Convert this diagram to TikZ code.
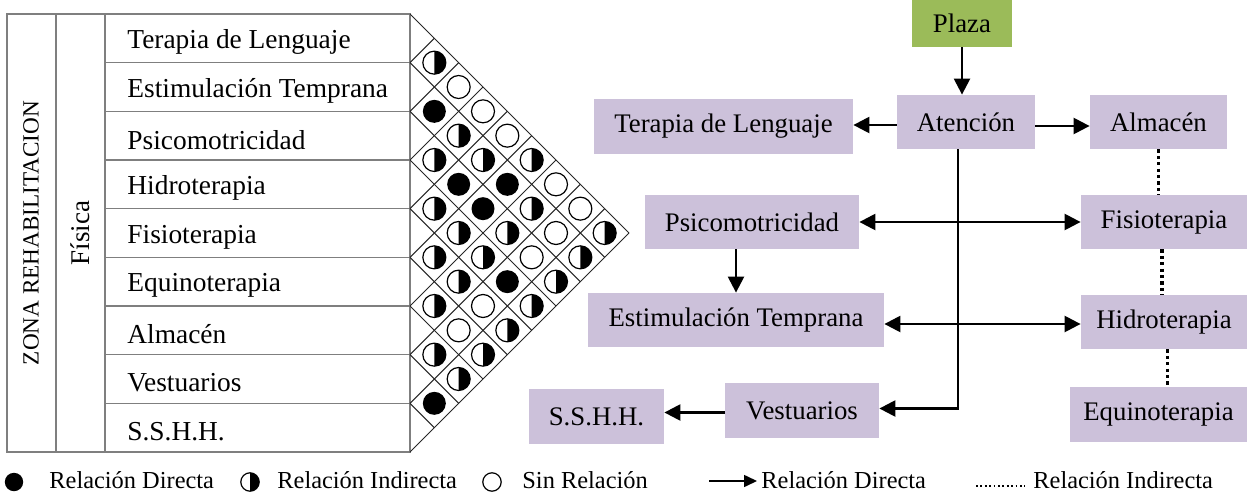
\documentclass[tikz,border=0pt]{standalone}
\usepackage{fontspec}
\setmainfont{Liberation Serif}
\usepackage{xcolor}
\usepackage{tikz}
\usetikzlibrary{arrows.meta,positioning,calc}

\definecolor{lav}{HTML}{CCC1DA}
\definecolor{plazagreen}{HTML}{9BBB59}
\definecolor{tblgray}{HTML}{7F7F7F}

\begin{document}
\begin{tikzpicture}[
  x=0.5pt, y=-0.5pt,
  tbl/.style={draw=tblgray, line width=0.75pt},
  grid/.style={draw=black!85, line width=0.5pt},
  rowlbl/.style={anchor=west, inner sep=0pt, font=\fontsize{13.7}{16}\selectfont},
  zone/.style={rotate=90, inner sep=0pt, font=\fontsize{11.6}{14}\selectfont},
  box/.style={fill=lav, inner sep=0pt, minimum height=27pt, font=\fontsize{13.4}{16}\selectfont},
  plazabox/.style={box, fill=plazagreen, minimum height=23.5pt},
  arr/.style={-{Triangle[length=8pt,width=8pt]}, line width=1.2pt},
  dbl/.style={{Triangle[length=8pt,width=8pt]}-{Triangle[length=8pt,width=8pt]}, line width=1.2pt},
  indir/.style={line width=1.6pt, dash pattern=on 1.6pt off 1.6pt},
  legdot/.style={line width=0.9pt, dash pattern=on 0.9pt off 1.3pt},
  leg/.style={anchor=west, inner sep=0pt, font=\fontsize{12.2}{14}\selectfont},
  sym/.style={line width=0.6pt}
]
\useasboundingbox (0,0) rectangle (1249,493);

% relation table
\draw[tbl] (7,14) rectangle (410,452);
\draw[tbl] (56,14) -- (56,452) (105,14) -- (105,452);
\foreach \k in {1,...,8}
  \draw[tbl] (105,{14+\k*48.667}) -- (410,{14+\k*48.667});

\node[zone] (zona) at (31,233) {ZONA REHABILITACION};
\node[zone, font=\fontsize{13.5}{16}\selectfont] (fisica) at (80,233) {Física};

\foreach \n/\txt in {1/Terapia de Lenguaje, 2/Estimulación Temprana, 3/Psicomotricidad,
    4/Hidroterapia, 5/Fisioterapia, 6/Equinoterapia, 7/Almacén, 8/Vestuarios, 9/S.S.H.H.}
  \node[rowlbl] (r\n) at (127,{18+(\n-0.5)*48.667}) {\txt};

% diamond grid
\foreach \k in {0,...,9} {
  \pgfmathsetmacro\b{14+\k*48.667}
  \draw[grid] (410,\b) -- ++({(452-\b)/2},{(452-\b)/2});
  \draw[grid] (410,\b) -- ++({(\b-14)/2},{-(\b-14)/2});
}

% relation symbols
\foreach \i/\j in {2/3, 8/9, 3/5, 3/6, 2/6, 4/8}
  \fill ({410+(\j-\i)*24.333},{14+(\i+\j-1)*24.333}) circle[radius=5.75pt];
\foreach \i/\j in {1/3, 6/8, 1/4, 5/8, 1/5, 3/8, 1/7, 2/8, 1/8}
  \draw[sym] ({410+(\j-\i)*24.333},{14+(\i+\j-1)*24.333}) circle[radius=5.75pt];
\foreach \i/\j in {1/2, 3/4, 4/5, 5/6, 6/7, 7/8, 2/4, 4/6, 5/7, 7/9, 2/5, 4/7, 6/9,
    3/7, 5/9, 1/6, 2/7, 4/9, 3/9, 2/9, 1/9} {
  \fill ({410+(\j-\i)*24.333},{14+(\i+\j-1)*24.333}) ++(0pt,5.75pt)
    arc[start angle=90, end angle=-90, radius=5.75pt] -- cycle;
  \draw[sym] ({410+(\j-\i)*24.333},{14+(\i+\j-1)*24.333}) circle[radius=5.75pt];
}

% flow diagram
\node[plazabox, minimum width=50pt] (plaza) at (962,23.5) {Plaza};
\node[box, minimum width=69pt] (aten) at (966,122) {Atención};
\node[box, minimum width=129.5pt, minimum height=27.5pt] (terap) at (723.5,126.5) {Terapia de Lenguaje};
\node[box, minimum width=68.5pt] (almac) at (1158.5,122) {Almacén};
\node[box, minimum width=107pt] (psico) at (752,222) {Psicomotricidad};
\node[box, minimum width=83pt] (fisio) at (1164,222) {Fisioterapia};
\node[box, minimum width=148pt] (estim) at (736,320) {Estimulación Temprana};
\node[box, minimum width=83pt] (hidro) at (1164,322) {Hidroterapia};
\node[box, minimum width=88.5pt, minimum height=27.5pt] (equin) at (1158.5,414.5) {Equinoterapia};
\node[box, minimum width=77pt, minimum height=27.5pt] (vest) at (802,410.5) {Vestuarios};
\node[box, minimum width=67.5pt, minimum height=27.5pt] (sshh) at (596.5,416.5) {S.S.H.H.};

\draw[arr] (plaza.south) -- (plaza.south |- aten.north);
\draw[arr] ([yshift=-1.5pt]aten.west) -- ([yshift=-1.5pt]aten.west -| terap.east);
\draw[arr] ([yshift=-2pt]aten.east) -- ([yshift=-2pt]almac.west);
\draw[arr] ([xshift=-4pt]aten.south) |- ([yshift=1pt]vest.east);
\draw[dbl] (psico.east) -- (fisio.west);
\draw[dbl] ([yshift=-2pt]estim.east) -- ([yshift=-2pt]estim.east -| hidro.west);
\draw[arr] (estim.north |- psico.south) -- (estim.north);
\draw[arr] ([yshift=-1pt]vest.west) -- ([yshift=-1pt]vest.west -| sshh.east);
\draw[indir] (almac.south) -- (almac.south |- fisio.north);
\draw[indir] ([xshift=-1pt]fisio.south) -- ([xshift=-1pt]fisio.south |- hidro.north);
\draw[indir] ([xshift=4.5pt]hidro.south -| equin.north) -- ([xshift=4.5pt]equin.north);

% legend
\fill (14,482) circle[radius=4.6pt];
\node[leg] (lfull) at (49,480) {Relación Directa};
\fill (250,482) ++(0pt,4.6pt) arc[start angle=90, end angle=-90, radius=4.6pt] -- cycle;
\draw[sym] (250,482) circle[radius=4.6pt];
\node[leg] (lhalf) at (277,480) {Relación Indirecta};
\draw[sym] (492,482) circle[radius=4.6pt];
\node[leg] (lnone) at (522,480) {Sin Relación};

\coordinate (la) at (709,481);
\node[leg, inner sep=2pt] (ldir) at (757,480) {Relación Directa};
\draw[-{Triangle[length=6.5pt,width=6pt]}, line width=0.8pt] (la) -- (la -| ldir.west);
\coordinate (li) at (976,486);
\node[leg, inner sep=2pt] (lind) at (1029,480) {Relación Indirecta};
\draw[legdot] (li) -- ([xshift=-2pt]li -| lind.west);
\end{tikzpicture}
\end{document}
